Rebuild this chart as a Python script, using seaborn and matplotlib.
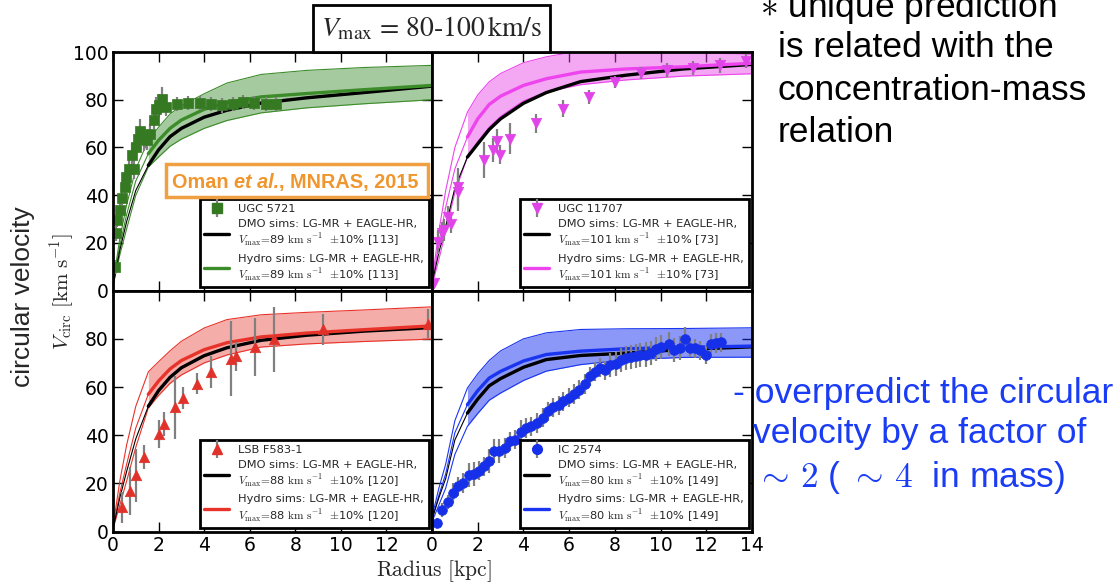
import matplotlib
matplotlib.use("Agg")
import matplotlib.pyplot as plt
import seaborn as sns
import pandas as pd
from matplotlib.lines import Line2D
from matplotlib.patches import Rectangle
from matplotlib.font_manager import FontProperties

# ---------------- data ----------------
R_MODEL = [0, 0.3, 0.6, 1.0, 1.55, 2.0, 2.5, 3.0, 4.0, 5.0, 6.5, 8.5, 11.0, 14.0]
R_CONV = 1.55

# UGC 5721 (top-left)
ugc5721_r = [0.07, 0.12, 0.17, 0.29, 0.41, 0.51, 0.58, 0.72, 0.84, 0.90, 0.99, 1.09, 1.19, 1.38, 1.48,
             1.62, 1.81, 1.88, 2.03, 2.14, 2.32, 2.83, 3.30, 3.80, 4.29, 4.78, 5.25, 5.72, 6.20, 6.70, 7.17]
ugc5721_v = [10, 24, 29.5, 34, 39, 43.5, 47.7, 51, 56.7, 51, 60, 63.7, 67, 63.7, 63,
             65.8, 71.6, 76, 77.6, 80.4, 77, 78.3, 78.6, 78.6, 78.3, 77.6, 78.3, 79, 78.7, 78.3, 78.3]
ugc5721_e = [3, 3, 3, 3, 3, 3, 3, 4, 5, 4, 4, 5, 5, 5, 4,
             4, 4, 5, 5, 5, 4, 3, 3, 3, 3, 3, 3, 3, 3, 3, 3]
ugc5721_dmo = [2, 17, 29, 42, 52.5, 59, 64.5, 68, 72.7, 75.6, 78.6, 80.8, 83, 85.7]
ugc5721_hyd = [2.5, 19, 32, 46, 57.4, 63, 68, 71.5, 76, 78.8, 81.2, 82.6, 84.2, 86]
ugc5721_hi = [3, 22, 36, 51, 63, 68.5, 74, 77.5, 82.5, 87, 90.6, 92.3, 93.5, 94.4]
ugc5721_lo = [2, 15, 26, 40, 51.8, 56, 60.5, 63.5, 68, 71.3, 74.5, 76.6, 78.3, 80]

# UGC 11707 (top-right)
ugc11707_r = [0.10, 0.25, 0.44, 0.54, 0.72, 0.83, 1.15, 1.15, 2.29, 2.66, 2.85, 2.99, 3.43, 4.55,
              5.72, 6.86, 8.00, 9.15, 10.28, 11.42, 12.58, 13.72]
ugc11707_v = [3.3, 20.5, 24.3, 25.4, 31, 28, 43.5, 41.4, 54.6, 59, 62.6, 57, 63.7, 70.2,
              76.2, 81.1, 87.4, 91.1, 92.5, 93.4, 94.4, 96.2]
ugc11707_e = [2, 5, 4.5, 4.5, 4.5, 4, 8, 8, 7.5, 5, 5, 4, 6.5, 4,
              3.5, 3, 2.5, 2.5, 3, 3, 3, 3]
ugc11707_dmo = [3, 16, 27, 43, 56, 61.5, 67.5, 72, 78.5, 83, 87.6, 90.3, 92.9, 94.8]
ugc11707_hyd = [3, 20, 35, 51, 64.4, 72, 78, 81.5, 86, 88.8, 91.6, 92.9, 93.8, 95.3]
ugc11707_hi = [4, 25, 42, 60, 74.8, 82, 87.5, 91, 95.5, 98, 100.5, 100.5, 100, 99]
ugc11707_lo = [2, 13, 25, 41, 56, 62.5, 68.5, 73, 79.5, 83.3, 86.3, 88.3, 89.9, 90.9]

# LSB F583-1 (bottom-left)
f583_r = [0.41, 0.76, 1.02, 1.35, 2.01, 2.24, 2.74, 3.07, 3.69, 4.29, 5.17, 5.39, 6.22, 7.07, 9.22, 13.84]
f583_v = [10, 16.9, 23.3, 30.8, 40.5, 44.7, 51.6, 55.5, 61.4, 66.3, 71.8, 72.8, 76.6, 79.8, 83.9, 86.3]
f583_e = [6.5, 10, 11, 5, 6, 5, 13, 4.5, 4.5, 6.5, 15.5, 6, 12, 13.5, 6.5, 6]
f583_dmo = [1, 14, 25, 38.5, 52, 58.5, 64, 68, 73, 76.3, 79.4, 81.5, 83.2, 84.7]
f583_hyd = [1.5, 16, 28, 43, 57, 62.5, 67.5, 71, 75.5, 78.4, 80.8, 82.4, 83.8, 85.4]
f583_hi = [2, 21, 36, 52, 66.3, 70.5, 75, 79, 84.5, 88, 90, 91, 92, 93.3]
f583_lo = [1, 11, 21, 35, 51.3, 56.5, 61.5, 65, 70, 73.3, 76.6, 77.9, 78.9, 79.9]

# IC 2574 (bottom-right)
ic2574_r = [0.20, 0.44, 0.69, 0.91, 1.12, 1.34, 1.61, 1.82, 2.07, 2.29, 2.51, 2.73, 2.95, 3.21, 3.43,
            3.65, 3.90, 4.12, 4.34, 4.58, 4.85, 5.07, 5.31, 5.55, 5.75, 5.99, 6.20, 6.45, 6.69, 6.92,
            7.14, 7.36, 7.58, 7.80, 8.03, 8.25, 8.47, 8.69, 8.91, 9.12, 9.37, 9.59, 9.81, 10.03, 10.36,
            10.58, 10.83, 11.05, 11.27, 11.49, 11.71, 11.97, 12.19, 12.41, 12.66]
ic2574_v = [3.5, 9.0, 12.2, 16.0, 18.7, 20.1, 23.6, 23.9, 25.2, 27.0, 29.4, 33.3, 33.3, 34.7, 37.4,
            38.2, 41.2, 43.0, 43.7, 45.1, 47.2, 49.9, 51.6, 52.4, 54.1, 55.5, 57.1, 58.9, 61.3, 64.5,
            66.3, 68.0, 66.9, 69.1, 69.6, 71.4, 72.1, 72.4, 72.8, 73.2, 73.5, 74.2, 75.9, 76.6, 77.9,
            75.2, 76.3, 79.8, 76.3, 76.0, 75.3, 73.5, 77.9, 78.3, 78.6]
ic2574_e = [2, 3, 3, 4, 4, 4, 5, 5, 4, 4, 5, 5, 5, 4, 4,
            4, 5, 4, 4, 4, 4, 4, 4, 4, 4, 4, 4, 4, 4, 4,
            4, 4, 4, 5, 5, 5, 5, 5, 5, 5, 5, 5, 5, 5, 5,
            5, 5, 5, 4, 4, 4, 4, 4, 4, 4]
ic2574_dmo = [5, 14, 22, 38, 49.2, 55, 60.5, 63.5, 68.2, 71.4, 73.1, 74.1, 75.6, 76.7]
ic2574_hyd = [5, 15, 24, 41, 52.7, 58.5, 63.7, 66.5, 70.8, 73.5, 74.9, 75.9, 76.5, 77]
ic2574_hi = [6, 18, 28, 46, 59.6, 65.5, 71, 75, 80, 82.5, 83.9, 84.2, 84.3, 84.6]
ic2574_lo = [4, 11, 18, 32, 43.7, 49, 54.5, 57.5, 62.7, 66.6, 69.3, 71.3, 72.3, 72.4]

galaxy_names = ["UGC 5721", "UGC 11707", "LSB F583-1", "IC 2574"]
vmax_values = [89, 101, 88, 80]
nsims = [113, 73, 120, 149]
x_ticks_full = [0, 2, 4, 6, 8, 10, 12, 14]
y_ticks_top = [0, 20, 40, 60, 80, 100]
y_ticks_bottom = [0, 20, 40, 60, 80]

# ---------------- style ----------------
sns.set_style("ticks")
plt.rcParams["font.family"] = ["DejaVu Sans"]
plt.rcParams["mathtext.fontset"] = "cm"

W, H = 1119, 583
fig = plt.figure(figsize=(W / 100, H / 100), dpi=100)
fig.patch.set_facecolor("white")


def fx(px):
    return px / W


def fy(py):
    return 1 - py / H


XL, XM, XR = 113, 432, 752
YT, YM, YB = 52, 290.7, 531.5
ax_tl = fig.add_axes([fx(XL), fy(YM), fx(XM) - fx(XL), fy(YT) - fy(YM)])
ax_tr = fig.add_axes([fx(XM), fy(YM), fx(XR) - fx(XM), fy(YT) - fy(YM)])
ax_bl = fig.add_axes([fx(XL), fy(YB), fx(XM) - fx(XL), fy(YM) - fy(YB)])
ax_br = fig.add_axes([fx(XM), fy(YB), fx(XR) - fx(XM), fy(YM) - fy(YB)])

legend_font = FontProperties(family="DejaVu Sans", size=8.2, math_fontfamily="cm")


def draw_panel(ax, r, v, e, dmo, hyd, hi, lo, marker, ms, mcolor, lcolor, fcolor, falpha,
               name, vmax, nsim):
    m = pd.DataFrame({"r": R_MODEL, "dmo": dmo, "hyd": hyd, "hi": hi, "lo": lo})
    inner = m[m.r <= R_CONV]
    outer = m[m.r >= R_CONV]
    ax.fill_between(outer.r, outer.lo, outer.hi, color=fcolor, alpha=falpha, lw=0, zorder=1)
    for col in ["hi", "lo"]:
        sns.lineplot(data=m, x="r", y=col, ax=ax, color=lcolor, lw=0.8,
                     estimator=None, sort=False, zorder=2)
    sns.lineplot(data=inner, x="r", y="hyd", ax=ax, color=lcolor, lw=0.8,
                 estimator=None, sort=False, zorder=2)
    sns.lineplot(data=inner, x="r", y="dmo", ax=ax, color="black", lw=0.8,
                 estimator=None, sort=False, zorder=2)
    sns.lineplot(data=outer, x="r", y="dmo", ax=ax, color="black", lw=2.4,
                 estimator=None, sort=False, zorder=3)
    sns.lineplot(data=outer, x="r", y="hyd", ax=ax, color=lcolor, lw=2.4,
                 estimator=None, sort=False, zorder=3)
    ax.errorbar(r, v, yerr=e, fmt="none", ecolor="#808080", elinewidth=1.6,
                capsize=0, zorder=4)
    sns.scatterplot(x=r, y=v, ax=ax, marker=marker, s=ms ** 2, color=mcolor,
                    edgecolor=mcolor, linewidth=0.5, zorder=5)
    ax.set_xlabel("")
    ax.set_ylabel("")

    h_data = (Line2D([], [], color="#808080", marker="|", ls="none", ms=13, mew=1.6),
              Line2D([], [], marker=marker, color=mcolor, ls="none", ms=ms))
    h_dmo = Line2D([], [], color="black", lw=2.4)
    h_hyd = Line2D([], [], color=lcolor, lw=2.4)
    tail = (r"$V_{\rm max}\!=\!$" + f"{vmax}" + r" $\rm km\ s^{-1}$  $\pm$10% [" + f"{nsim}]")
    leg = ax.legend([h_data, h_dmo, h_hyd],
                    [name, "DMO sims: LG-MR + EAGLE-HR,\n" + tail,
                     "Hydro sims: LG-MR + EAGLE-HR,\n" + tail],
                    loc="lower right", prop=legend_font, frameon=True, fancybox=False,
                    edgecolor="black", framealpha=1, borderaxespad=0.3,
                    handlelength=2.2, labelspacing=0.45, borderpad=0.4,
                    handletextpad=0.8)
    leg.get_frame().set_linewidth(2)
    leg.set_zorder(10)


draw_panel(ax_tl, ugc5721_r, ugc5721_v, ugc5721_e, ugc5721_dmo, ugc5721_hyd, ugc5721_hi, ugc5721_lo,
           "s", 6.5, "#357a23", "#3c8c2a", "#3a8a2a", 0.45, galaxy_names[0], vmax_values[0], nsims[0])
draw_panel(ax_tr, ugc11707_r, ugc11707_v, ugc11707_e, ugc11707_dmo, ugc11707_hyd, ugc11707_hi,
           ugc11707_lo, "v", 7.5, "#e044e8", "#ee44ee", "#e83ee8", 0.45, galaxy_names[1],
           vmax_values[1], nsims[1])
draw_panel(ax_bl, f583_r, f583_v, f583_e, f583_dmo, f583_hyd, f583_hi, f583_lo,
           "^", 7.5, "#e0322a", "#e8332a", "#e8332a", 0.4, galaxy_names[2], vmax_values[2], nsims[2])
draw_panel(ax_br, ic2574_r, ic2574_v, ic2574_e, ic2574_dmo, ic2574_hyd, ic2574_hi, ic2574_lo,
           "o", 7, "#1530e8", "#1a35f0", "#1a33f0", 0.5, galaxy_names[3], vmax_values[3], nsims[3])

for ax in [ax_tl, ax_tr, ax_bl, ax_br]:
    ax.set_xlim(0, 14)
    ax.set_ylim(0, 100)
    ax.tick_params(direction="in", top=True, right=True, length=7, width=1,
                   labelsize=13.5, pad=3, colors="black")
    for s in ax.spines.values():
        s.set_linewidth(2)
        s.set_color("black")
        s.set_zorder(20)

ax_tl.set_xticks(x_ticks_full)
ax_tl.set_xticklabels([])
ax_tr.set_xticks(x_ticks_full)
ax_tr.set_xticklabels([])
ax_tl.set_yticks(y_ticks_top)
ax_tr.set_yticks(y_ticks_top)
ax_tr.set_yticklabels([])
ax_bl.set_xticks(x_ticks_full[:-1])
ax_br.set_xticks(x_ticks_full)
ax_bl.set_yticks(y_ticks_bottom)
ax_br.set_yticks(y_ticks_bottom)
ax_br.set_yticklabels([])

# axis labels
fig.text(fx(62), fy(292), r"$V_{\rm circ}\ [\rm km\ s^{-1}]$", rotation=90,
         ha="center", va="center", fontsize=15, math_fontfamily="cm")
fig.text(fx(434), fy(571), r"$\rm Radius\ [kpc]$", ha="center", va="center",
         fontsize=15.5, math_fontfamily="cm")
fig.text(fx(23), fy(297), "circular velocity", rotation=90, ha="center", va="center",
         fontsize=19, family="Liberation Sans")

# title box
fig.patches.append(Rectangle((fx(313), fy(52)), fx(550) - fx(313), fy(5) - fy(52),
                             transform=fig.transFigure, facecolor="white",
                             edgecolor="black", lw=2, zorder=5))
fig.text(fx(431.5), fy(29), r"$V_{\rm max}$ = 80-100$\,$km/s", ha="center", va="center",
         fontsize=20, family="STIXGeneral", math_fontfamily="stix", zorder=6)

# Oman et al. box (drawn inside the top-left axes, above the legend)
ax_tl.add_patch(Rectangle((fx(166), fy(197)), fx(428) - fx(166), fy(164) - fy(197),
                          transform=fig.transFigure, facecolor="white",
                          edgecolor="#f0a040", lw=2.5, zorder=30, clip_on=False))
orange = "#f0962e"
t1 = ax_tl.annotate("Oman ", xy=(fx(172), fy(188)), xycoords="figure fraction",
                    va="baseline", ha="left", fontsize=14.3, weight="bold",
                    family="Liberation Sans", color=orange, annotation_clip=False, zorder=31)
t2 = ax_tl.annotate("et al.", xy=(1, 0), xycoords=t1, va="bottom", ha="left",
                    fontsize=14.3, weight="bold", style="italic", family="Liberation Sans",
                    color=orange, annotation_clip=False, zorder=31)
t3 = ax_tl.annotate(", MNRAS, 2015", xy=(1, 0), xycoords=t2, va="bottom", ha="left",
                    fontsize=14.3, weight="bold", family="Liberation Sans",
                    color=orange, annotation_clip=False, zorder=31)

# slide texts (right side)
fs_slide = 25.5
fig.text(fx(760), fy(17), r"$\ast$ unique prediction", ha="left", va="baseline",
         fontsize=fs_slide, family="Liberation Sans", color="black")
fig.text(fx(778), fy(57), "is related with the", ha="left", va="baseline",
         fontsize=fs_slide, family="Liberation Sans", color="black")
fig.text(fx(778), fy(100), "concentration-mass", ha="left", va="baseline",
         fontsize=fs_slide, family="Liberation Sans", color="black")
fig.text(fx(778), fy(142), "relation", ha="left", va="baseline",
         fontsize=fs_slide, family="Liberation Sans", color="black")

blue = "#1a3cf5"
fig.text(fx(733), fy(403), "- overpredict the circular", ha="left", va="baseline",
         fontsize=fs_slide, family="Liberation Sans", color=blue, zorder=40)
fig.text(fx(753), fy(443), "velocity by a factor of", ha="left", va="baseline",
         fontsize=fs_slide, family="Liberation Sans", color=blue, zorder=40)
fig.text(fx(755), fy(487), r"$\sim\,2$ ( $\sim\,4$  in mass)", ha="left", va="baseline",
         fontsize=fs_slide, family="Liberation Sans", color=blue, zorder=40)

fig.savefig("out.png", dpi=100, facecolor="white")
